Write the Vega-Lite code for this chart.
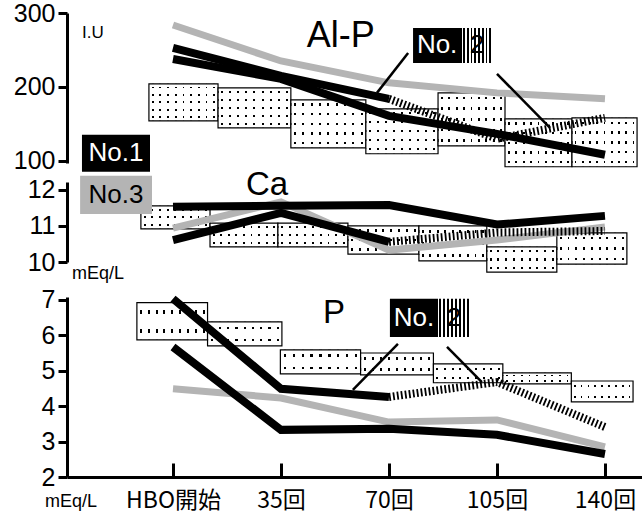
{
  "$schema": "https://vega.github.io/schema/vega-lite/v6.json",
  "padding": {"left": 13, "top": 1, "right": 0, "bottom": 12},
  "config": {
    "view": {"stroke": null},
    "font": "Liberation Sans",
    "axis": {"domainColor": "black", "domainWidth": 3, "tickColor": "black", "tickWidth": 3, "labelColor": "black", "labelFont": "Liberation Sans", "labelFontSize": 25, "grid": false}
  },
  "datasets": {
    "boxes": [
      {"panel": "AlP", "x": -7.8, "x2": 14.6, "y": 204.1, "y2": 154.1},
      {"panel": "AlP", "x": 14.6, "x2": 38.2, "y": 198.6, "y2": 144.6},
      {"panel": "AlP", "x": 38.2, "x2": 62.5, "y": 182.4, "y2": 117.6},
      {"panel": "AlP", "x": 62.5, "x2": 85.9, "y": 170.3, "y2": 109.5},
      {"panel": "AlP", "x": 85.9, "x2": 107.6, "y": 191.9, "y2": 120.3},
      {"panel": "AlP", "x": 107.6, "x2": 129.3, "y": 156.8, "y2": 91.9},
      {"panel": "AlP", "x": 129.3, "x2": 150.4, "y": 158.1, "y2": 91.9},
      {"panel": "Ca", "x": -10.4, "x2": 12.0, "y": 11.56, "y2": 10.92},
      {"panel": "Ca", "x": 12.0, "x2": 34.0, "y": 11.08, "y2": 10.42},
      {"panel": "Ca", "x": 34.0, "x2": 56.7, "y": 11.08, "y2": 10.42},
      {"panel": "Ca", "x": 56.7, "x2": 79.7, "y": 11.0, "y2": 10.22},
      {"panel": "Ca", "x": 79.7, "x2": 101.7, "y": 11.0, "y2": 10.03},
      {"panel": "Ca", "x": 101.7, "x2": 124.4, "y": 10.42, "y2": 9.72},
      {"panel": "Ca", "x": 124.4, "x2": 147.1, "y": 10.81, "y2": 9.94},
      {"panel": "P", "x": -11.7, "x2": 11.2, "y": 6.92, "y2": 5.87},
      {"panel": "P", "x": 11.2, "x2": 35.3, "y": 6.38, "y2": 5.70},
      {"panel": "P", "x": 34.8, "x2": 60.8, "y": 5.59, "y2": 4.91},
      {"panel": "P", "x": 60.8, "x2": 84.4, "y": 5.50, "y2": 4.88},
      {"panel": "P", "x": 84.4, "x2": 106.9, "y": 5.19, "y2": 4.66},
      {"panel": "P", "x": 106.9, "x2": 129.1, "y": 4.94, "y2": 4.63},
      {"panel": "P", "x": 129.1, "x2": 149.1, "y": 4.71, "y2": 4.12}
    ],
    "lines": [
      {"panel": "AlP", "series": "No.1", "x": 0, "y": 237.8},
      {"panel": "AlP", "series": "No.1", "x": 35, "y": 210.8},
      {"panel": "AlP", "series": "No.1", "x": 70, "y": 160.8},
      {"panel": "AlP", "series": "No.1", "x": 105, "y": 136.5},
      {"panel": "AlP", "series": "No.1", "x": 140, "y": 108.1},
      {"panel": "AlP", "series": "No.2", "x": 0, "y": 252.7},
      {"panel": "AlP", "series": "No.2", "x": 35, "y": 214.9},
      {"panel": "AlP", "series": "No.2", "x": 70, "y": 183.8},
      {"panel": "AlP", "series": "No.2h", "x": 70, "y": 183.8},
      {"panel": "AlP", "series": "No.2h", "x": 105, "y": 129.7},
      {"panel": "AlP", "series": "No.2h", "x": 140, "y": 158.1},
      {"panel": "AlP", "series": "No.3", "x": 0, "y": 283.8},
      {"panel": "AlP", "series": "No.3", "x": 35, "y": 235.1},
      {"panel": "AlP", "series": "No.3", "x": 70, "y": 205.5},
      {"panel": "AlP", "series": "No.3", "x": 105, "y": 191.9},
      {"panel": "AlP", "series": "No.3", "x": 140, "y": 183.8},
      {"panel": "Ca", "series": "No.1", "x": 0, "y": 11.53},
      {"panel": "Ca", "series": "No.1", "x": 35, "y": 11.56},
      {"panel": "Ca", "series": "No.1", "x": 70, "y": 11.58},
      {"panel": "Ca", "series": "No.1", "x": 105, "y": 11.04},
      {"panel": "Ca", "series": "No.1", "x": 140, "y": 11.28},
      {"panel": "Ca", "series": "No.2", "x": 0, "y": 10.61},
      {"panel": "Ca", "series": "No.2", "x": 35, "y": 11.36},
      {"panel": "Ca", "series": "No.2", "x": 70, "y": 10.56},
      {"panel": "Ca", "series": "No.2h", "x": 70, "y": 10.56},
      {"panel": "Ca", "series": "No.2h", "x": 105, "y": 10.82},
      {"panel": "Ca", "series": "No.2h", "x": 140, "y": 10.86},
      {"panel": "Ca", "series": "No.3", "x": 0, "y": 10.94},
      {"panel": "Ca", "series": "No.3", "x": 35, "y": 11.67},
      {"panel": "Ca", "series": "No.3", "x": 70, "y": 10.33},
      {"panel": "Ca", "series": "No.3", "x": 105, "y": 10.61},
      {"panel": "Ca", "series": "No.3", "x": 140, "y": 10.97},
      {"panel": "P", "series": "No.1", "x": 0, "y": 5.67},
      {"panel": "P", "series": "No.1", "x": 35, "y": 3.33},
      {"panel": "P", "series": "No.1", "x": 70, "y": 3.36},
      {"panel": "P", "series": "No.1", "x": 105, "y": 3.19},
      {"panel": "P", "series": "No.1", "x": 140, "y": 2.65},
      {"panel": "P", "series": "No.2", "x": 0, "y": 7.03},
      {"panel": "P", "series": "No.2", "x": 35, "y": 4.49},
      {"panel": "P", "series": "No.2", "x": 70, "y": 4.26},
      {"panel": "P", "series": "No.2h", "x": 70, "y": 4.26},
      {"panel": "P", "series": "No.2h", "x": 105, "y": 4.68},
      {"panel": "P", "series": "No.2h", "x": 140, "y": 3.41},
      {"panel": "P", "series": "No.3", "x": 0, "y": 4.49},
      {"panel": "P", "series": "No.3", "x": 35, "y": 4.23},
      {"panel": "P", "series": "No.3", "x": 70, "y": 3.55},
      {"panel": "P", "series": "No.3", "x": 105, "y": 3.61},
      {"panel": "P", "series": "No.3", "x": 140, "y": 2.85}
    ],
    "tags": [
      {"panel": "AlP", "series": "No.1", "x": -29.5, "x2": -7.45, "y": 135.1, "y2": 85.1},
      {"panel": "AlP", "series": "No.2", "x": 77.8, "x2": 93.7, "y": 279.7, "y2": 232.4},
      {"panel": "AlP", "series": "No.2h", "x": 93.7, "x2": 103.4, "y": 279.7, "y2": 232.4},
      {"panel": "Ca", "series": "No.3", "x": -30.1, "x2": -6.8, "y": 12.39, "y2": 11.33},
      {"panel": "P", "series": "No.2", "x": 70.3, "x2": 85.9, "y": 7.03, "y2": 5.95},
      {"panel": "P", "series": "No.2h", "x": 85.9, "x2": 96.3, "y": 7.03, "y2": 5.95}
    ],
    "tagtext": [
      {"panel": "AlP", "series": "No.1", "x": -18.5, "y": 110.8, "text": "No.1"},
      {"panel": "AlP", "series": "No.2", "x": 85.6, "y": 256.1, "text": "No."},
      {"panel": "AlP", "series": "No.2h", "x": 98.5, "y": 256.1, "text": "2"},
      {"panel": "Ca", "series": "No.3", "x": -18.5, "y": 11.86, "text": "No.3"},
      {"panel": "P", "series": "No.2", "x": 78.1, "y": 6.49, "text": "No."},
      {"panel": "P", "series": "No.2h", "x": 91.1, "y": 6.49, "text": "2"}
    ],
    "titles": [
      {"panel": "AlP", "x": 54.4, "y": 268.9, "text": "Al-P"},
      {"panel": "Ca", "x": 30.5, "y": 12.14, "text": "Ca"},
      {"panel": "P", "x": 52.2, "y": 6.63, "text": "P"}
    ],
    "units": [
      {"panel": "AlP", "x": -29.5, "y": 272.9, "text": "I.U"},
      {"panel": "Ca", "x": -32.7, "y": 9.67, "text": "mEq/L"},
      {"panel": "P", "x": -41.5, "y": 1.30, "text": "mEq/L"}
    ],
    "pointers": [
      {"panel": "AlP", "x": 76.2, "y": 245.9, "x2": 66.1, "y2": 191.9},
      {"panel": "AlP", "x": 105.0, "y": 217.6, "x2": 122.2, "y2": 144.6},
      {"panel": "P", "x": 72.9, "y": 5.76, "x2": 58.3, "y2": 4.46},
      {"panel": "P", "x": 88.8, "y": 5.67, "x2": 100.1, "y2": 4.68}
    ]
  },
  "spacing": -1,
  "vconcat": [
    {
      "spacing": 19,
      "bounds": "flush",
      "vconcat": [
        {
          "width": 575,
          "height": 150,
          "encoding": {
            "x": {"field": "x", "type": "quantitative", "scale": {"domain": [-34.35, 152], "nice": false, "zero": false}, "axis": null},
            "y": {"field": "y", "type": "quantitative", "scale": {"domain": [97, 300], "nice": false, "zero": false}, "axis": {"values": [100, 200, 300], "title": null, "tickSize": 9, "labelPadding": 3}}
          },
          "layer": [
            {"data": {"name": "boxes"}, "transform": [{"filter": "datum.panel === 'AlP'"}],
             "mark": {"type": "rect", "strokeWidth": 0, "fill": {"gradient": "linear", "x1": 0, "y1": 0, "x2": 1, "y2": 0, "stops": [
               {"offset": 0, "color": "white"},
               {"offset": 0.0416, "color": "white"}, {"offset": 0.0416, "color": "black"}, {"offset": 0.0696, "color": "black"}, {"offset": 0.0696, "color": "white"},
               {"offset": 0.1527, "color": "white"}, {"offset": 0.1527, "color": "black"}, {"offset": 0.1807, "color": "black"}, {"offset": 0.1807, "color": "white"},
               {"offset": 0.2638, "color": "white"}, {"offset": 0.2638, "color": "black"}, {"offset": 0.2918, "color": "black"}, {"offset": 0.2918, "color": "white"},
               {"offset": 0.3749, "color": "white"}, {"offset": 0.3749, "color": "black"}, {"offset": 0.4029, "color": "black"}, {"offset": 0.4029, "color": "white"},
               {"offset": 0.486, "color": "white"}, {"offset": 0.486, "color": "black"}, {"offset": 0.514, "color": "black"}, {"offset": 0.514, "color": "white"},
               {"offset": 0.5971, "color": "white"}, {"offset": 0.5971, "color": "black"}, {"offset": 0.6251, "color": "black"}, {"offset": 0.6251, "color": "white"},
               {"offset": 0.7082, "color": "white"}, {"offset": 0.7082, "color": "black"}, {"offset": 0.7362, "color": "black"}, {"offset": 0.7362, "color": "white"},
               {"offset": 0.8193, "color": "white"}, {"offset": 0.8193, "color": "black"}, {"offset": 0.8473, "color": "black"}, {"offset": 0.8473, "color": "white"},
               {"offset": 0.9304, "color": "white"}, {"offset": 0.9304, "color": "black"}, {"offset": 0.9584, "color": "black"}, {"offset": 0.9584, "color": "white"},
               {"offset": 1, "color": "white"}]}},
             "encoding": {"x2": {"field": "x2"}, "y2": {"field": "y2"}}},
            {"data": {"name": "boxes"}, "transform": [{"filter": "datum.panel === 'AlP'"}],
             "mark": {"type": "rect", "stroke": "black", "strokeWidth": 1.2, "fill": {"gradient": "linear", "x1": 0, "y1": 0, "x2": 0, "y2": 1, "stops": [
               {"offset": 0, "color": "white"},
               {"offset": 0.075, "color": "white"}, {"offset": 0.075, "color": "rgba(255,255,255,0)"}, {"offset": 0.125, "color": "rgba(255,255,255,0)"}, {"offset": 0.125, "color": "white"},
               {"offset": 0.275, "color": "white"}, {"offset": 0.275, "color": "rgba(255,255,255,0)"}, {"offset": 0.325, "color": "rgba(255,255,255,0)"}, {"offset": 0.325, "color": "white"},
               {"offset": 0.475, "color": "white"}, {"offset": 0.475, "color": "rgba(255,255,255,0)"}, {"offset": 0.525, "color": "rgba(255,255,255,0)"}, {"offset": 0.525, "color": "white"},
               {"offset": 0.675, "color": "white"}, {"offset": 0.675, "color": "rgba(255,255,255,0)"}, {"offset": 0.725, "color": "rgba(255,255,255,0)"}, {"offset": 0.725, "color": "white"},
               {"offset": 0.875, "color": "white"}, {"offset": 0.875, "color": "rgba(255,255,255,0)"}, {"offset": 0.925, "color": "rgba(255,255,255,0)"}, {"offset": 0.925, "color": "white"},
               {"offset": 1, "color": "white"}]}},
             "encoding": {"x2": {"field": "x2"}, "y2": {"field": "y2"}}},
            {"data": {"name": "lines"}, "transform": [{"filter": "datum.panel === 'AlP' && datum.series === 'No.3'"}],
             "mark": {"type": "line", "color": "#b4b4b4", "strokeWidth": 7}, "encoding": {}},
            {"data": {"name": "lines"}, "transform": [{"filter": "datum.panel === 'AlP' && (datum.series === 'No.1' || datum.series === 'No.2')"}],
             "mark": {"type": "line", "color": "black", "strokeWidth": 8}, "encoding": {"detail": {"field": "series", "type": "nominal"}}},
            {"data": {"name": "lines"}, "transform": [{"filter": "datum.panel === 'AlP' && datum.series === 'No.2h'"}],
             "mark": {"type": "line", "color": "black", "strokeWidth": 8, "strokeDash": [1.8, 2.2]}, "encoding": {}},
            {"data": {"name": "pointers"}, "transform": [{"filter": "datum.panel === 'AlP'"}],
             "mark": {"type": "rule", "color": "black", "strokeWidth": 2.5}, "encoding": {"x2": {"field": "x2"}, "y2": {"field": "y2"}}},
            {"data": {"name": "tags"}, "transform": [{"filter": "datum.panel === 'AlP' && datum.series !== 'No.2h'"}],
             "mark": {"type": "rect", "fill": "black"}, "encoding": {"x2": {"field": "x2"}, "y2": {"field": "y2"}}},
            {"data": {"name": "tags"}, "transform": [{"filter": "datum.panel === 'AlP' && datum.series === 'No.2h'"}],
             "mark": {"type": "rect", "fill": {"gradient": "linear", "x1": 0, "y1": 0, "x2": 1, "y2": 0, "stops": [
               {"offset": 0, "color": "white"},
               {"offset": 0.0325, "color": "white"}, {"offset": 0.0325, "color": "black"}, {"offset": 0.0925, "color": "black"}, {"offset": 0.0925, "color": "white"},
               {"offset": 0.1575, "color": "white"}, {"offset": 0.1575, "color": "black"}, {"offset": 0.2175, "color": "black"}, {"offset": 0.2175, "color": "white"},
               {"offset": 0.2825, "color": "white"}, {"offset": 0.2825, "color": "black"}, {"offset": 0.3425, "color": "black"}, {"offset": 0.3425, "color": "white"},
               {"offset": 0.4075, "color": "white"}, {"offset": 0.4075, "color": "black"}, {"offset": 0.4675, "color": "black"}, {"offset": 0.4675, "color": "white"},
               {"offset": 0.5325, "color": "white"}, {"offset": 0.5325, "color": "black"}, {"offset": 0.5925, "color": "black"}, {"offset": 0.5925, "color": "white"},
               {"offset": 0.6575, "color": "white"}, {"offset": 0.6575, "color": "black"}, {"offset": 0.7175, "color": "black"}, {"offset": 0.7175, "color": "white"},
               {"offset": 0.7825, "color": "white"}, {"offset": 0.7825, "color": "black"}, {"offset": 0.8425, "color": "black"}, {"offset": 0.8425, "color": "white"},
               {"offset": 0.9075, "color": "white"}, {"offset": 0.9075, "color": "black"}, {"offset": 0.9675, "color": "black"}, {"offset": 0.9675, "color": "white"},
               {"offset": 1, "color": "white"}]}},
             "encoding": {"x2": {"field": "x2"}, "y2": {"field": "y2"}}},
            {"data": {"name": "tagtext"}, "transform": [{"filter": "datum.panel === 'AlP'"}],
             "mark": {"type": "text", "fontSize": 26, "baseline": "middle", "align": "center"},
             "encoding": {"text": {"field": "text"}, "color": {"field": "series", "type": "nominal", "scale": {"domain": ["No.1", "No.2", "No.2h", "No.3"], "range": ["white", "white", "black", "black"]}, "legend": null}}},
            {"data": {"name": "titles"}, "transform": [{"filter": "datum.panel === 'AlP'"}],
             "mark": {"type": "text", "fontSize": 36, "baseline": "middle", "align": "center", "color": "black"}, "encoding": {"text": {"field": "text"}}},
            {"data": {"name": "units"}, "transform": [{"filter": "datum.panel === 'AlP'"}],
             "mark": {"type": "text", "fontSize": 17, "baseline": "middle", "align": "left", "color": "black"}, "encoding": {"text": {"field": "text"}}}
          ]
        },
        {
          "width": 575,
          "height": 80,
          "encoding": {
            "x": {"field": "x", "type": "quantitative", "scale": {"domain": [-34.35, 152], "nice": false, "zero": false}, "axis": null},
            "y": {"field": "y", "type": "quantitative", "scale": {"domain": [10, 12.22], "nice": false, "zero": false}, "axis": {"values": [10, 11, 12], "title": null, "tickSize": 9, "labelPadding": 3}}
          },
          "layer": [
            {"data": {"name": "boxes"}, "transform": [{"filter": "datum.panel === 'Ca'"}],
             "mark": {"type": "rect", "strokeWidth": 0, "fill": {"gradient": "linear", "x1": 0, "y1": 0, "x2": 1, "y2": 0, "stops": [
               {"offset": 0, "color": "white"},
               {"offset": 0.0416, "color": "white"}, {"offset": 0.0416, "color": "black"}, {"offset": 0.0696, "color": "black"}, {"offset": 0.0696, "color": "white"},
               {"offset": 0.1527, "color": "white"}, {"offset": 0.1527, "color": "black"}, {"offset": 0.1807, "color": "black"}, {"offset": 0.1807, "color": "white"},
               {"offset": 0.2638, "color": "white"}, {"offset": 0.2638, "color": "black"}, {"offset": 0.2918, "color": "black"}, {"offset": 0.2918, "color": "white"},
               {"offset": 0.3749, "color": "white"}, {"offset": 0.3749, "color": "black"}, {"offset": 0.4029, "color": "black"}, {"offset": 0.4029, "color": "white"},
               {"offset": 0.486, "color": "white"}, {"offset": 0.486, "color": "black"}, {"offset": 0.514, "color": "black"}, {"offset": 0.514, "color": "white"},
               {"offset": 0.5971, "color": "white"}, {"offset": 0.5971, "color": "black"}, {"offset": 0.6251, "color": "black"}, {"offset": 0.6251, "color": "white"},
               {"offset": 0.7082, "color": "white"}, {"offset": 0.7082, "color": "black"}, {"offset": 0.7362, "color": "black"}, {"offset": 0.7362, "color": "white"},
               {"offset": 0.8193, "color": "white"}, {"offset": 0.8193, "color": "black"}, {"offset": 0.8473, "color": "black"}, {"offset": 0.8473, "color": "white"},
               {"offset": 0.9304, "color": "white"}, {"offset": 0.9304, "color": "black"}, {"offset": 0.9584, "color": "black"}, {"offset": 0.9584, "color": "white"},
               {"offset": 1, "color": "white"}]}},
             "encoding": {"x2": {"field": "x2"}, "y2": {"field": "y2"}}},
            {"data": {"name": "boxes"}, "transform": [{"filter": "datum.panel === 'Ca'"}],
             "mark": {"type": "rect", "stroke": "black", "strokeWidth": 1.2, "fill": {"gradient": "linear", "x1": 0, "y1": 0, "x2": 0, "y2": 1, "stops": [
               {"offset": 0, "color": "white"},
               {"offset": 0.1217, "color": "white"}, {"offset": 0.1217, "color": "rgba(255,255,255,0)"}, {"offset": 0.2117, "color": "rgba(255,255,255,0)"}, {"offset": 0.2117, "color": "white"},
               {"offset": 0.455, "color": "white"}, {"offset": 0.455, "color": "rgba(255,255,255,0)"}, {"offset": 0.545, "color": "rgba(255,255,255,0)"}, {"offset": 0.545, "color": "white"},
               {"offset": 0.7883, "color": "white"}, {"offset": 0.7883, "color": "rgba(255,255,255,0)"}, {"offset": 0.8783, "color": "rgba(255,255,255,0)"}, {"offset": 0.8783, "color": "white"},
               {"offset": 1, "color": "white"}]}},
             "encoding": {"x2": {"field": "x2"}, "y2": {"field": "y2"}}},
            {"data": {"name": "lines"}, "transform": [{"filter": "datum.panel === 'Ca' && datum.series === 'No.3'"}],
             "mark": {"type": "line", "color": "#b4b4b4", "strokeWidth": 7}, "encoding": {}},
            {"data": {"name": "lines"}, "transform": [{"filter": "datum.panel === 'Ca' && (datum.series === 'No.1' || datum.series === 'No.2')"}],
             "mark": {"type": "line", "color": "black", "strokeWidth": 8}, "encoding": {"detail": {"field": "series", "type": "nominal"}}},
            {"data": {"name": "lines"}, "transform": [{"filter": "datum.panel === 'Ca' && datum.series === 'No.2h'"}],
             "mark": {"type": "line", "color": "black", "strokeWidth": 8, "strokeDash": [1.8, 2.2]}, "encoding": {}},
            {"data": {"name": "tags"}, "transform": [{"filter": "datum.panel === 'Ca'"}],
             "mark": {"type": "rect", "fill": "#b4b4b4"}, "encoding": {"x2": {"field": "x2"}, "y2": {"field": "y2"}}},
            {"data": {"name": "tagtext"}, "transform": [{"filter": "datum.panel === 'Ca'"}],
             "mark": {"type": "text", "fontSize": 26, "baseline": "middle", "align": "center", "color": "black"},
             "encoding": {"text": {"field": "text"}}},
            {"data": {"name": "titles"}, "transform": [{"filter": "datum.panel === 'Ca'"}],
             "mark": {"type": "text", "fontSize": 33, "baseline": "middle", "align": "center", "color": "black"}, "encoding": {"text": {"field": "text"}}},
            {"data": {"name": "units"}, "transform": [{"filter": "datum.panel === 'Ca'"}],
             "mark": {"type": "text", "fontSize": 18, "baseline": "middle", "align": "left", "color": "black"}, "encoding": {"text": {"field": "text"}}}
          ]
        }
      ]
    },
    {
      "width": 575,
      "height": 180,
      "encoding": {
        "x": {"field": "x", "type": "quantitative", "scale": {"domain": [-34.35, 152], "nice": false, "zero": false},
              "axis": {"values": [0, 35, 70, 105, 140], "title": null, "labelExpr": "datum.value === 0 ? 'HBO開始' : datum.value + '回'", "labelFont": "Noto Sans CJK JP", "labelFontSize": 23, "tickSize": -14, "labelPadding": 26}},
        "y": {"field": "y", "type": "quantitative", "scale": {"domain": [2, 7.08], "nice": false, "zero": false}, "axis": {"values": [2, 3, 4, 5, 6, 7], "title": null, "tickSize": 9, "labelPadding": 3}}
      },
      "layer": [
        {"data": {"name": "boxes"}, "transform": [{"filter": "datum.panel === 'P'"}],
         "mark": {"type": "rect", "strokeWidth": 0, "fill": {"gradient": "linear", "x1": 0, "y1": 0, "x2": 1, "y2": 0, "stops": [
           {"offset": 0, "color": "white"},
           {"offset": 0.0416, "color": "white"}, {"offset": 0.0416, "color": "black"}, {"offset": 0.0696, "color": "black"}, {"offset": 0.0696, "color": "white"},
           {"offset": 0.1527, "color": "white"}, {"offset": 0.1527, "color": "black"}, {"offset": 0.1807, "color": "black"}, {"offset": 0.1807, "color": "white"},
           {"offset": 0.2638, "color": "white"}, {"offset": 0.2638, "color": "black"}, {"offset": 0.2918, "color": "black"}, {"offset": 0.2918, "color": "white"},
           {"offset": 0.3749, "color": "white"}, {"offset": 0.3749, "color": "black"}, {"offset": 0.4029, "color": "black"}, {"offset": 0.4029, "color": "white"},
           {"offset": 0.486, "color": "white"}, {"offset": 0.486, "color": "black"}, {"offset": 0.514, "color": "black"}, {"offset": 0.514, "color": "white"},
           {"offset": 0.5971, "color": "white"}, {"offset": 0.5971, "color": "black"}, {"offset": 0.6251, "color": "black"}, {"offset": 0.6251, "color": "white"},
           {"offset": 0.7082, "color": "white"}, {"offset": 0.7082, "color": "black"}, {"offset": 0.7362, "color": "black"}, {"offset": 0.7362, "color": "white"},
           {"offset": 0.8193, "color": "white"}, {"offset": 0.8193, "color": "black"}, {"offset": 0.8473, "color": "black"}, {"offset": 0.8473, "color": "white"},
           {"offset": 0.9304, "color": "white"}, {"offset": 0.9304, "color": "black"}, {"offset": 0.9584, "color": "black"}, {"offset": 0.9584, "color": "white"},
           {"offset": 1, "color": "white"}]}},
         "encoding": {"x2": {"field": "x2"}, "y2": {"field": "y2"}}},
        {"data": {"name": "boxes"}, "transform": [{"filter": "datum.panel === 'P'"}],
         "mark": {"type": "rect", "stroke": "black", "strokeWidth": 1.2, "fill": {"gradient": "linear", "x1": 0, "y1": 0, "x2": 0, "y2": 1, "stops": [
           {"offset": 0, "color": "white"},
           {"offset": 0.195, "color": "white"}, {"offset": 0.195, "color": "rgba(255,255,255,0)"}, {"offset": 0.305, "color": "rgba(255,255,255,0)"}, {"offset": 0.305, "color": "white"},
           {"offset": 0.695, "color": "white"}, {"offset": 0.695, "color": "rgba(255,255,255,0)"}, {"offset": 0.805, "color": "rgba(255,255,255,0)"}, {"offset": 0.805, "color": "white"},
           {"offset": 1, "color": "white"}]}},
         "encoding": {"x2": {"field": "x2"}, "y2": {"field": "y2"}}},
        {"data": {"name": "lines"}, "transform": [{"filter": "datum.panel === 'P' && datum.series === 'No.3'"}],
         "mark": {"type": "line", "color": "#b4b4b4", "strokeWidth": 7}, "encoding": {}},
        {"data": {"name": "lines"}, "transform": [{"filter": "datum.panel === 'P' && (datum.series === 'No.1' || datum.series === 'No.2')"}],
         "mark": {"type": "line", "color": "black", "strokeWidth": 8}, "encoding": {"detail": {"field": "series", "type": "nominal"}}},
        {"data": {"name": "lines"}, "transform": [{"filter": "datum.panel === 'P' && datum.series === 'No.2h'"}],
         "mark": {"type": "line", "color": "black", "strokeWidth": 8, "strokeDash": [1.8, 2.2]}, "encoding": {}},
        {"data": {"name": "pointers"}, "transform": [{"filter": "datum.panel === 'P'"}],
         "mark": {"type": "rule", "color": "black", "strokeWidth": 2.5}, "encoding": {"x2": {"field": "x2"}, "y2": {"field": "y2"}}},
        {"data": {"name": "tags"}, "transform": [{"filter": "datum.panel === 'P' && datum.series !== 'No.2h'"}],
         "mark": {"type": "rect", "fill": "black"}, "encoding": {"x2": {"field": "x2"}, "y2": {"field": "y2"}}},
        {"data": {"name": "tags"}, "transform": [{"filter": "datum.panel === 'P' && datum.series === 'No.2h'"}],
         "mark": {"type": "rect", "fill": {"gradient": "linear", "x1": 0, "y1": 0, "x2": 1, "y2": 0, "stops": [
           {"offset": 0, "color": "white"},
           {"offset": 0.0325, "color": "white"}, {"offset": 0.0325, "color": "black"}, {"offset": 0.0925, "color": "black"}, {"offset": 0.0925, "color": "white"},
           {"offset": 0.1575, "color": "white"}, {"offset": 0.1575, "color": "black"}, {"offset": 0.2175, "color": "black"}, {"offset": 0.2175, "color": "white"},
           {"offset": 0.2825, "color": "white"}, {"offset": 0.2825, "color": "black"}, {"offset": 0.3425, "color": "black"}, {"offset": 0.3425, "color": "white"},
           {"offset": 0.4075, "color": "white"}, {"offset": 0.4075, "color": "black"}, {"offset": 0.4675, "color": "black"}, {"offset": 0.4675, "color": "white"},
           {"offset": 0.5325, "color": "white"}, {"offset": 0.5325, "color": "black"}, {"offset": 0.5925, "color": "black"}, {"offset": 0.5925, "color": "white"},
           {"offset": 0.6575, "color": "white"}, {"offset": 0.6575, "color": "black"}, {"offset": 0.7175, "color": "black"}, {"offset": 0.7175, "color": "white"},
           {"offset": 0.7825, "color": "white"}, {"offset": 0.7825, "color": "black"}, {"offset": 0.8425, "color": "black"}, {"offset": 0.8425, "color": "white"},
           {"offset": 0.9075, "color": "white"}, {"offset": 0.9075, "color": "black"}, {"offset": 0.9675, "color": "black"}, {"offset": 0.9675, "color": "white"},
           {"offset": 1, "color": "white"}]}},
         "encoding": {"x2": {"field": "x2"}, "y2": {"field": "y2"}}},
        {"data": {"name": "tagtext"}, "transform": [{"filter": "datum.panel === 'P'"}],
         "mark": {"type": "text", "fontSize": 26, "baseline": "middle", "align": "center"},
         "encoding": {"text": {"field": "text"}, "color": {"field": "series", "type": "nominal", "scale": {"domain": ["No.1", "No.2", "No.2h", "No.3"], "range": ["white", "white", "black", "black"]}, "legend": null}}},
        {"data": {"name": "titles"}, "transform": [{"filter": "datum.panel === 'P'"}],
         "mark": {"type": "text", "fontSize": 33, "baseline": "middle", "align": "center", "color": "black"}, "encoding": {"text": {"field": "text"}}},
        {"data": {"name": "units"}, "transform": [{"filter": "datum.panel === 'P'"}],
         "mark": {"type": "text", "fontSize": 18, "baseline": "middle", "align": "left", "color": "black"}, "encoding": {"text": {"field": "text"}}}
      ]
    }
  ]
}
